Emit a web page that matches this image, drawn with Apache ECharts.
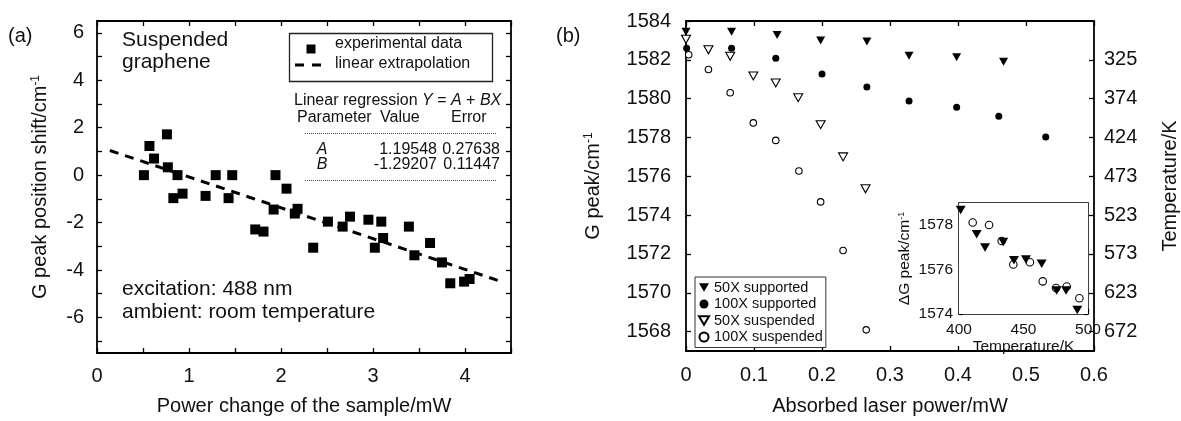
<!DOCTYPE html>
<html><head><meta charset="utf-8">
<script src="https://cdn.jsdelivr.net/npm/echarts@6/dist/echarts.min.js"></script>
<style>html,body{margin:0;padding:0;background:#fff}#c{width:1181px;height:421px}</style>
</head><body><div id="c"></div>
<script>
const FONT = '"Liberation Sans", Arial, Helvetica, sans-serif';
const INK = '#111';

// ---------- panel (a) ----------
const aPower = [0.51, 0.57, 0.62, 0.76, 0.77, 0.875, 0.83, 0.93, 1.18, 1.29, 1.43, 1.47, 1.72, 1.81, 1.92, 1.94, 2.06, 2.15, 2.18, 2.35, 2.51, 2.67, 2.75, 2.95, 3.02, 3.09, 3.11, 3.39, 3.45, 3.62, 3.75, 3.84, 3.99, 4.05];
const aShift = [0.0, 1.23, 0.7, 1.72, 0.33, 0.0, -0.97, -0.78, -0.875, 0.0, -0.97, 0.0, -2.29, -2.38, -1.45, 0.0, -0.57, -1.62, -1.42, -3.06, -1.96, -2.17, -1.75, -1.88, -3.06, -1.96, -2.65, -2.17, -3.38, -2.86, -3.68, -4.56, -4.49, -4.38];
const aFitX = [0.14, 4.42];
const aFitY = [1.04, -4.52];
const aYLabels = [-6, -4, -2, 0, 2, 4, 6];
const aYTicks = [-7, -6, -5, -4, -3, -2, -1, 0, 1, 2, 3, 4, 5, 6];
const regParams = ['A', 'B'];
const regValues = ['1.19548', '-1.29207'];
const regErrors = ['0.27638', '0.11447'];

// ---------- panel (b) ----------
const seriesNames = ['50X supported', '100X supported', '50X suspended', '100X suspended'];
const p50sup = [0.0, 0.067, 0.134, 0.198, 0.266, 0.328, 0.398, 0.467];
const g50sup = [1583.45, 1583.45, 1583.28, 1583.0, 1582.94, 1582.21, 1582.13, 1581.9];
const p100sup = [0.001, 0.067, 0.132, 0.2, 0.266, 0.328, 0.398, 0.46, 0.529];
const g100sup = [1582.59, 1582.59, 1582.08, 1581.27, 1580.6, 1579.88, 1579.56, 1579.09, 1578.02];
const p50sus = [0.0, 0.033, 0.065, 0.099, 0.132, 0.165, 0.198, 0.231, 0.264];
const g50sus = [1583.06, 1582.52, 1582.18, 1581.17, 1580.81, 1580.05, 1578.66, 1577.0, 1575.36];
const p100sus = [0.004, 0.033, 0.065, 0.099, 0.132, 0.166, 0.198, 0.231, 0.265];
const g100sus = [1582.26, 1581.5, 1580.3, 1578.75, 1577.85, 1576.27, 1574.68, 1572.18, 1568.09];
const bYTicks = [1568, 1570, 1572, 1574, 1576, 1578, 1580, 1582, 1584];
const tempTickValues = [1582, 1580, 1578, 1576, 1574, 1572, 1570, 1568];
const tempLabels = ['325', '374', '424', '473', '523', '573', '623', '672'];

// ---------- inset ----------
const tSup = [401.3, 413.7, 420.2, 434.3, 442.6, 451.9, 464.1, 475.7, 483, 491.7];
const gSupIn = [1578.68, 1577.59, 1576.99, 1577.24, 1576.42, 1576.45, 1576.26, 1575.06, 1575.06, 1574.18];
const tSus = [410.6, 423.3, 433.1, 442.1, 455, 464.9, 475.2, 483.5, 493.3];
const gSusIn = [1578.12, 1578.01, 1577.29, 1576.23, 1576.33, 1575.47, 1575.17, 1575.24, 1574.71];
const insetYLabels = [1574, 1576, 1578];

const zip = (a, b) => a.map((v, i) => [v, b[i]]);
const DOWN_TRI = 'path://M0,0L20,0L10,17Z';
const plain = v => String(v);

const axisLine = { show: true, onZero: false, lineStyle: { color: '#000', width: 1.8 } };
function base(extra) {
  return Object.assign({
    type: 'value', axisLine: axisLine, splitLine: { show: false },
    axisTick: { inside: true, length: 5, lineStyle: { color: '#000', width: 1.3 } },
    axisLabel: { color: INK, fontFamily: FONT, fontSize: 20 },
    nameTextStyle: { color: INK, fontFamily: FONT, fontSize: 20 }
  }, extra);
}
const supRich = (fs) => ({ sup: { fontSize: Math.round(fs * 0.6), fontFamily: FONT, color: INK, verticalAlign: 'top', lineHeight: fs * 0.6, padding: [0, 0, fs * 0.55, 0] } });

const option = {
  animation: false,
  backgroundColor: '#fff',
  grid: [
    { left: 97, top: 21, width: 414, height: 336 },
    { left: 686, top: 21, width: 410, height: 334 },
    { left: 959, top: 203, width: 129, height: 111, show: true, backgroundColor: '#fff', borderWidth: 0, z: 3 }
  ],
  xAxis: [
    base({ gridIndex: 0, min: 0, max: 4.5, interval: 0.5, position: 'bottom',
      axisLabel: { color: INK, fontFamily: FONT, fontSize: 20, margin: 13, formatter: v => Number.isInteger(v) && v <= 4 ? String(v) : '' },
      name: 'Power change of the sample/mW', nameLocation: 'middle', nameGap: 43 }),
    base({ gridIndex: 0, min: 0, max: 4.5, interval: 0.5, position: 'top', axisLabel: { show: false } }),
    base({ gridIndex: 1, min: 0, max: 0.6, interval: 0.1, position: 'bottom',
      axisLabel: { color: INK, fontFamily: FONT, fontSize: 20, margin: 14, formatter: v => v === 0 ? '0' : v.toFixed(1) },
      name: 'Absorbed laser power/mW', nameLocation: 'middle', nameGap: 45 }),
    base({ gridIndex: 1, min: 0, max: 0.6, interval: 0.1, position: 'top', axisLabel: { show: false } }),
    base({ gridIndex: 2, min: 400, max: 500, interval: 50, position: 'bottom',
      axisLine: { show: true, onZero: false, lineStyle: { color: '#000', width: 1.5 } },
      axisLabel: { color: INK, fontFamily: FONT, fontSize: 15.5, margin: 8, formatter: plain },
      name: 'Temperature/K', nameLocation: 'middle', nameGap: 16,
      nameTextStyle: { color: INK, fontFamily: FONT, fontSize: 15.5 } }),
    base({ gridIndex: 2, min: 400, max: 500, interval: 50, position: 'top', axisLabel: { show: false },
      axisTick: { show: false }, axisLine: { show: true, onZero: false, lineStyle: { color: '#000', width: 1.5 } } })
  ],
  yAxis: [
    base({ gridIndex: 0, min: -7.5, max: 6.5, position: 'left',
      axisTick: { inside: true, length: 5, customValues: aYTicks, lineStyle: { color: '#000', width: 1.3 } },
      axisLabel: { color: INK, fontFamily: FONT, fontSize: 20, margin: 13, customValues: aYLabels, formatter: plain },
      name: 'G peak position shift/cm{sup|-1}', nameLocation: 'middle', nameGap: 47,
      nameTextStyle: { color: INK, fontFamily: FONT, fontSize: 20, rich: supRich(20) } }),
    base({ gridIndex: 0, min: -7.5, max: 6.5, position: 'right',
      axisTick: { inside: true, length: 5, customValues: aYTicks, lineStyle: { color: '#000', width: 1.3 } },
      axisLabel: { show: false } }),
    base({ gridIndex: 1, min: 1567, max: 1584, position: 'left',
      axisTick: { inside: true, length: 5, customValues: bYTicks, lineStyle: { color: '#000', width: 1.3 } },
      axisLabel: { color: INK, fontFamily: FONT, fontSize: 20, margin: 15, customValues: bYTicks, formatter: plain },
      name: 'G peak/cm{sup|-1}', nameLocation: 'middle', nameGap: 83,
      nameTextStyle: { color: INK, fontFamily: FONT, fontSize: 20, rich: supRich(20) } }),
    base({ gridIndex: 1, min: 1567, max: 1584, position: 'right',
      axisTick: { inside: true, length: 5, customValues: tempTickValues, lineStyle: { color: '#000', width: 1.3 } },
      axisLabel: { color: INK, fontFamily: FONT, fontSize: 20, margin: 10, customValues: tempTickValues,
        formatter: v => { const i = tempTickValues.indexOf(v); return i >= 0 ? tempLabels[i] : ''; } },
      name: 'Temperature/K', nameLocation: 'middle', nameGap: 66, nameRotate: 90 }),
    base({ gridIndex: 2, min: 1574, max: 1579, position: 'left',
      axisLine: { show: true, onZero: false, lineStyle: { color: '#000', width: 1.5 } },
      axisTick: { inside: true, length: 4, customValues: insetYLabels, lineStyle: { color: '#000', width: 1.2 } },
      axisLabel: { color: INK, fontFamily: FONT, fontSize: 15.5, margin: 6, customValues: insetYLabels, formatter: plain },
      name: 'ΔG peak/cm{sup|-1}', nameLocation: 'middle', nameGap: 44,
      nameTextStyle: { color: INK, fontFamily: FONT, fontSize: 15.5, rich: supRich(15.5) } }),
    base({ gridIndex: 2, min: 1574, max: 1579, position: 'right', axisLabel: { show: false },
      axisTick: { inside: true, length: 4, customValues: insetYLabels, lineStyle: { color: '#000', width: 1.2 } },
      axisLine: { show: true, onZero: false, lineStyle: { color: '#000', width: 1.5 } } })
  ],
  legend: {
    data: seriesNames, selectedMode: false, orient: 'vertical', left: 695, top: 277,
    itemWidth: 10, itemHeight: 9, itemGap: 1.5, padding: [3, 3, 3, 3],
    borderColor: '#333', borderWidth: 1, backgroundColor: '#fff',
    textStyle: { color: INK, fontFamily: FONT, fontSize: 14.5 }
  },
  series: [
    { type: 'scatter', name: 'experimental data', xAxisIndex: 0, yAxisIndex: 0, symbol: 'rect', symbolSize: 10,
      itemStyle: { color: '#000', opacity: 1 }, data: zip(aPower, aShift) },
    { type: 'line', name: 'linear extrapolation', xAxisIndex: 0, yAxisIndex: 0, symbol: 'none',
      lineStyle: { color: '#000', width: 3, type: [9, 7] }, data: zip(aFitX, aFitY) },
    { type: 'scatter', name: seriesNames[0], xAxisIndex: 2, yAxisIndex: 2, symbol: DOWN_TRI, symbolSize: [9, 8],
      itemStyle: { color: '#000', opacity: 1 }, data: zip(p50sup, g50sup) },
    { type: 'scatter', name: seriesNames[1], xAxisIndex: 2, yAxisIndex: 2, symbol: 'circle', symbolSize: 7,
      itemStyle: { color: '#000', opacity: 1 }, data: zip(p100sup, g100sup) },
    { type: 'scatter', name: seriesNames[2], xAxisIndex: 2, yAxisIndex: 2, symbol: DOWN_TRI, symbolSize: [9, 8],
      itemStyle: { color: '#fff', borderColor: '#000', borderWidth: 1.1, opacity: 1 }, data: zip(p50sus, g50sus) },
    { type: 'scatter', name: seriesNames[3], xAxisIndex: 2, yAxisIndex: 2, symbol: 'circle', symbolSize: 6.5,
      itemStyle: { color: '#fff', borderColor: '#000', borderWidth: 1.1, opacity: 1 }, data: zip(p100sus, g100sus) },
    { type: 'scatter', name: 'inset supported', xAxisIndex: 4, yAxisIndex: 4, symbol: DOWN_TRI, symbolSize: [10, 8.5], z: 4,
      itemStyle: { color: '#000', opacity: 1 }, data: zip(tSup, gSupIn) },
    { type: 'scatter', name: 'inset suspended', xAxisIndex: 4, yAxisIndex: 4, symbol: 'circle', symbolSize: 7.5, z: 4,
      itemStyle: { color: 'rgba(255,255,255,0)', borderColor: '#000', borderWidth: 1.1, opacity: 1 }, data: zip(tSus, gSusIn) }
  ],
  graphic: { elements: [] }
};

const G = option.graphic.elements;
function txt(x, y, text, fs, extra) {
  G.push(Object.assign({ type: 'text', x: x, y: y, z: 10,
    style: Object.assign({ text: text, fill: INK, font: fs + 'px ' + FONT, fontSize: fs, fontFamily: FONT,
      align: 'left', verticalAlign: 'top', textAlign: 'left', textVerticalAlign: 'top' }, extra || {}) }));
}
txt(8, 26, '(a)', 20);
txt(556, 26, '(b)', 20);
txt(122, 30, 'Suspended', 21);
txt(122, 52, 'graphene', 21);
txt(122, 279, 'excitation: 488 nm', 21);
txt(122, 302, 'ambient: room temperature', 21);

// legend box (a)
G.push({ type: 'rect', z: 9, shape: { x: 289.5, y: 33.5, width: 203, height: 48 }, style: { fill: '#fff', stroke: '#222', lineWidth: 1.3 } });
G.push({ type: 'rect', z: 10, shape: { x: 306.5, y: 44.5, width: 9, height: 9 }, style: { fill: '#000' } });
G.push({ type: 'line', z: 10, shape: { x1: 295, y1: 65, x2: 321, y2: 65 }, style: { stroke: '#000', lineWidth: 3, lineDash: [9, 8] } });
txt(335, 36, 'experimental data', 16);
txt(335, 56, 'linear extrapolation', 16);

// regression table
G.push({ type: 'text', x: 294, y: 93, z: 10, style: {
  text: '{n|Linear regression }{i|Y}{n| = }{i|A}{n| + }{i|BX}', align: 'left', verticalAlign: 'top',
  rich: { n: { fontSize: 16, fontFamily: FONT, fill: INK, color: INK }, i: { fontSize: 16, fontFamily: FONT, fontStyle: 'italic', fill: INK, color: INK } } } });
txt(297, 110, 'Parameter', 16);
txt(380, 110, 'Value', 16);
txt(451, 110, 'Error', 16);
G.push({ type: 'line', z: 10, shape: { x1: 305, y1: 133.5, x2: 496, y2: 133.5 }, style: { stroke: '#444', lineWidth: 1, lineDash: [1, 1] } });
regParams.forEach((p, i) => {
  const y = 142 + i * 14.5;
  txt(322, y, p, 16, { align: 'center', textAlign: 'center', fontStyle: 'italic', font: 'italic 16px ' + FONT });
  txt(437, y, regValues[i], 16, { align: 'right', textAlign: 'right' });
  txt(500, y, regErrors[i], 16, { align: 'right', textAlign: 'right' });
});
G.push({ type: 'line', z: 10, shape: { x1: 305, y1: 180.5, x2: 496, y2: 180.5 }, style: { stroke: '#444', lineWidth: 1, lineDash: [1, 1] } });

const chart = echarts.init(document.getElementById('c'), null, { renderer: 'canvas' });
chart.setOption(option);
</script>
</body></html>
